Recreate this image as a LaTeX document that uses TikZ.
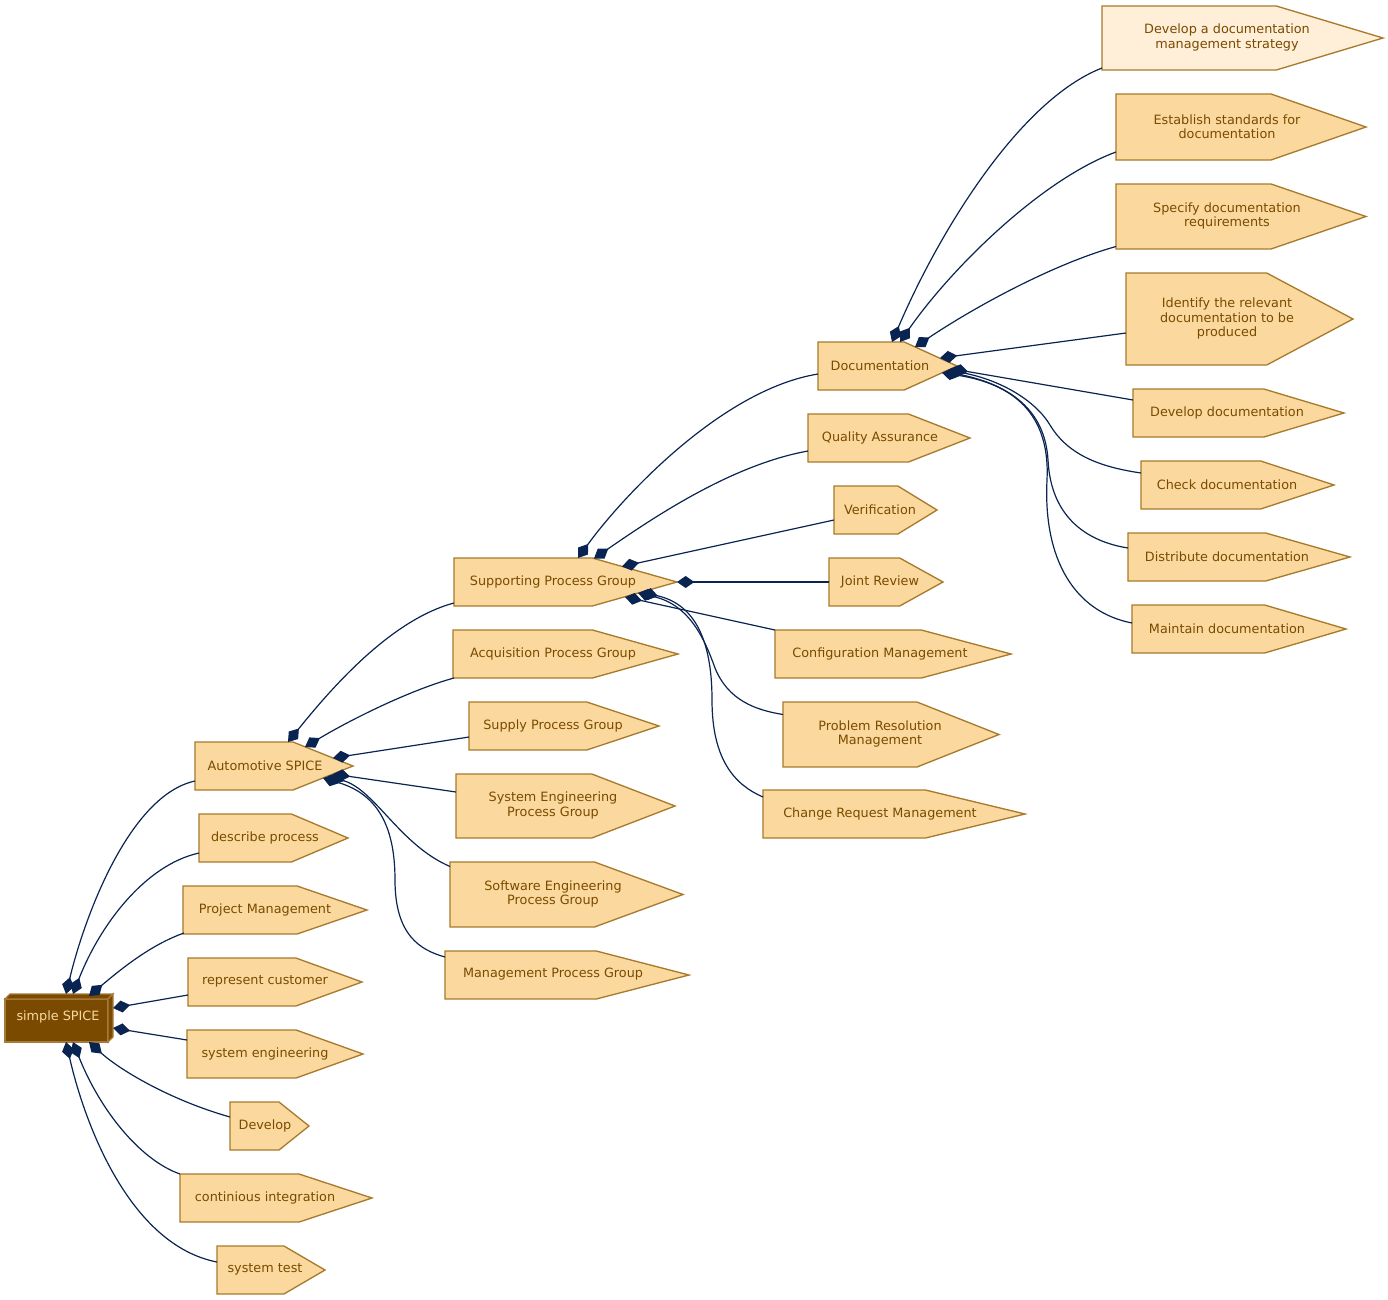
\documentclass[tikz,border=0pt]{standalone}
\usepackage{fontspec}
\setmainfont{DejaVu Sans}
\usetikzlibrary{arrows.meta,calc}
\definecolor{cdsfill}{RGB}{251,217,158}
\definecolor{cdslightfill}{RGB}{255,239,216}
\definecolor{cdsborder}{RGB}{168,122,44}
\definecolor{cdstextc}{RGB}{122,74,0}
\definecolor{rootfill}{RGB}{122,74,0}
\definecolor{rootborder}{RGB}{165,122,58}
\definecolor{roottext}{RGB}{250,218,160}
\definecolor{edgec}{RGB}{10,36,82}
\newcommand\cdsfont{\fontsize{9.6}{10.9}\selectfont}
\tikzset{
  cdsline/.style={draw=cdsborder, fill=cdsfill, line width=1pt, line join=miter},
  cdslight/.style={fill=cdslightfill},
  rootstyle/.style={draw=rootborder, fill=rootfill, line width=1pt, line join=miter},
  bbox/.style={rectangle, inner sep=0pt, outer sep=0pt, draw=none},
  cdstext/.style={text=cdstextc, align=center, inner sep=0pt, font=\cdsfont},
  conn/.style={draw=edgec, line width=0.9pt, {Diamond[length=13pt,width=9pt]}-},
}
% #1 extra style, #2 name, #3 text centre x, #4 left, #5 tip, #6 top, #7 bottom, #8 text
\newcommand\cds[8][]{%
  \pgfmathsetmacro\cdsxa{#5-0.38*(#5-#4)}%
  \pgfmathsetmacro\cdsym{(#6+#7)/2}%
  \pgfmathsetmacro\cdsxm{(#4+#5)/2}%
  \filldraw[cdsline,#1] (#4,#6) -- (\cdsxa,#6) -- (#5,\cdsym) -- (\cdsxa,#7) -- (#4,#7) -- cycle;
  \node[bbox, minimum width={(#5-#4)*0.75pt}, minimum height={(#7-#6)*0.75pt}] (#2) at (\cdsxm,\cdsym) {};
  \node[cdstext] (#2t) at (#3,\cdsym-0.5) {#8};
}
\begin{document}
\begin{tikzpicture}[x=0.75pt,y=-0.75pt]
\useasboundingbox (0,0) rectangle (1388,1299);
% root
\filldraw[rootstyle] (5,999) rectangle (108,1042);
\filldraw[rootstyle] (5,999) -- (10,994) -- (113,994) -- (108,999) -- cycle;
\filldraw[rootstyle] (108,999) -- (113,994) -- (113,1037) -- (108,1042) -- cycle;
\node[bbox, minimum width=81pt, minimum height=36pt] (root) at (59,1018) {};
\node[text=roottext, font=\cdsfont, inner sep=0pt] (roott) at (58,1017) {simple SPICE};
% column 1
\cds{au}{265}{195}{353}{742}{790}{Automotive SPICE}
\cds{dp}{265}{199}{348}{814}{862}{describe process}
\cds{pm}{265}{183}{367}{886}{934}{Project Management}
\cds{rc}{265}{188}{362}{958}{1006}{represent customer}
\cds{se}{265}{187}{363}{1030}{1078}{system engineering}
\cds{dv}{265}{230}{309}{1102}{1150}{Develop}
\cds{ci}{265}{180}{372}{1174}{1222}{continious integration}
\cds{st}{265}{217}{325}{1246}{1294}{system test}
% column 2
\cds{sp}{553}{454}{677}{558}{606}{Supporting Process Group}
\cds{aq}{553}{453}{678}{630}{678}{Acquisition Process Group}
\cds{su}{553}{469}{659}{702}{750}{Supply Process Group}
\cds{sy}{553}{456}{675}{774}{838}{System Engineering\\Process Group}
\cds{sw}{553}{450}{683}{862}{927}{Software Engineering\\Process Group}
\cds{mg}{553}{445}{689}{951}{999}{Management Process Group}
% column 3
\cds{doc}{880}{818}{957}{342}{390}{Documentation}
\cds{qa}{880}{808}{970}{414}{462}{Quality Assurance}
\cds{ve}{880}{834}{937}{486}{534}{Verification}
\cds{jr}{880}{829}{943}{558}{606}{Joint Review}
\cds{cm}{880}{775}{1011}{630}{678}{Configuration Management}
\cds{pr}{880}{783}{999}{702}{767}{Problem Resolution\\Management}
\cds{cr}{880}{763}{1025}{790}{838}{Change Request Management}
% column 4
\cds[cdslight]{da}{1227}{1102}{1383}{6}{70}{Develop a documentation\\management strategy}
\cds{db}{1227}{1116}{1366}{94}{160}{Establish standards for\\documentation}
\cds{dc}{1227}{1116}{1366}{184}{249}{Specify documentation\\requirements}
\cds{dd}{1227}{1126}{1353}{273}{365}{Identify the relevant\\documentation to be\\produced}
\cds{de}{1227}{1133}{1344}{389}{437}{Develop documentation}
\cds{df}{1227}{1141}{1334}{461}{509}{Check documentation}
\cds{dg}{1227}{1128}{1350}{533}{581}{Distribute documentation}
\cds{dh}{1227}{1132}{1346}{605}{653}{Maintain documentation}
% edges from root
\draw[conn] ($(root.center)+(7,-24)$) .. controls (85,915) and (130,795) .. ($(au.west)+(0,15)$);
\draw[conn] ($(root.center)+(14,-24)$) .. controls (100,925) and (145,865) .. ($(dp.west)+(0,15)$);
\draw[conn] ($(root.center)+(30,-22)$) .. controls (120,970) and (150,945) .. ($(pm.west)+(1,23)$);
\draw[conn] ($(root.center)+(54,-10)$) -- ($(rc.west)+(0,13)$);
\draw[conn] ($(root.center)+(54,10)$) -- ($(se.west)+(0,-14)$);
\draw[conn] ($(root.center)+(30,24)$) .. controls (120,1070) and (170,1100) .. ($(dv.west)+(0,-9)$);
\draw[conn] ($(root.center)+(14,24)$) .. controls (100,1110) and (140,1160) .. ($(ci.west)+(0,-24)$);
\draw[conn] ($(root.center)+(7,24)$) .. controls (85,1125) and (130,1245) .. ($(st.west)+(0,-8)$);
% edges from Automotive SPICE
\draw[conn] ($(au.center)+(14,-24)$) .. controls (330,690) and (390,620) .. ($(sp.west)+(0,21)$);
\draw[conn] ($(au.center)+(31,-19)$) .. controls (350,720) and (410,690) .. ($(aq.west)+(1,24)$);
\draw[conn] ($(au.center)+(59,-8)$) -- ($(su.west)+(0,11)$);
\draw[conn] ($(au.center)+(59,8)$) -- ($(sy.west)+(0,-14)$);
\draw[conn] ($(au.center)+(54,10)$) .. controls (375,790) and (400,845) .. ($(sw.west)+(0,-28)$);
\draw[conn] ($(au.center)+(49,12)$) .. controls (380,795) and (395,830) .. (395,880) .. controls (395,935) and (420,950) .. ($(mg.west)+(0,-18)$);
% edges from Supporting Process Group
\draw[conn] ($(sp.center)+(12.5,-24)$) .. controls (620,500) and (720,390) .. ($(doc.west)+(0,8)$);
\draw[conn] ($(sp.center)+(28.5,-23.5)$) .. controls (650,520) and (730,465) .. ($(qa.west)+(0,13)$);
\draw[conn] ($(sp.center)+(56.5,-15.5)$) -- ($(ve.west)+(0,10)$);
\draw[conn] ($(sp.center)+(111.5,0)$) -- (jr.west);
\draw[conn] ($(sp.center)+(59.5,15)$) -- ($(cm.west)+(0,-24)$);
\draw[conn] ($(sp.center)+(72.5,11)$) .. controls (690,605) and (705,640) .. (715,668) .. controls (728,700) and (755,710) .. ($(pr.west)+(0,-20)$);
\draw[conn] ($(sp.center)+(75.5,10.2)$) .. controls (700,605) and (712,650) .. (712,700) .. controls (712,760) and (735,785) .. ($(cr.west)+(0,-17)$);
% edges from Documentation
\draw[conn] ($(doc.center)+(4.5,-24)$) .. controls (940,230) and (1020,100) .. ($(da.west)+(0,30)$);
\draw[conn] ($(doc.center)+(12.5,-24)$) .. controls (950,270) and (1040,180) .. ($(db.west)+(0,25)$);
\draw[conn] ($(doc.center)+(27.5,-19)$) .. controls (970,310) and (1050,265) .. ($(dc.west)+(0,30)$);
\draw[conn] ($(doc.center)+(52.5,-8)$) -- ($(dd.west)+(0,14)$);
\draw[conn] ($(doc.center)+(63.5,2.7)$) -- ($(de.west)+(0,-13)$);
\draw[conn] ($(doc.center)+(60.5,4)$) .. controls (1000,380) and (1035,400) .. (1050,425) .. controls (1068,455) and (1100,467) .. ($(df.west)+(0,-12)$);
\draw[conn] ($(doc.center)+(57.5,5.4)$) .. controls (1010,385) and (1045,410) .. (1048,460) .. controls (1051,520) and (1090,542) .. ($(dg.west)+(0,-9)$);
\draw[conn] ($(doc.center)+(54.5,6.8)$) .. controls (1020,385) and (1050,420) .. (1047,480) .. controls (1043,560) and (1075,612) .. ($(dh.west)+(0,-6)$);
\end{tikzpicture}
\end{document}
